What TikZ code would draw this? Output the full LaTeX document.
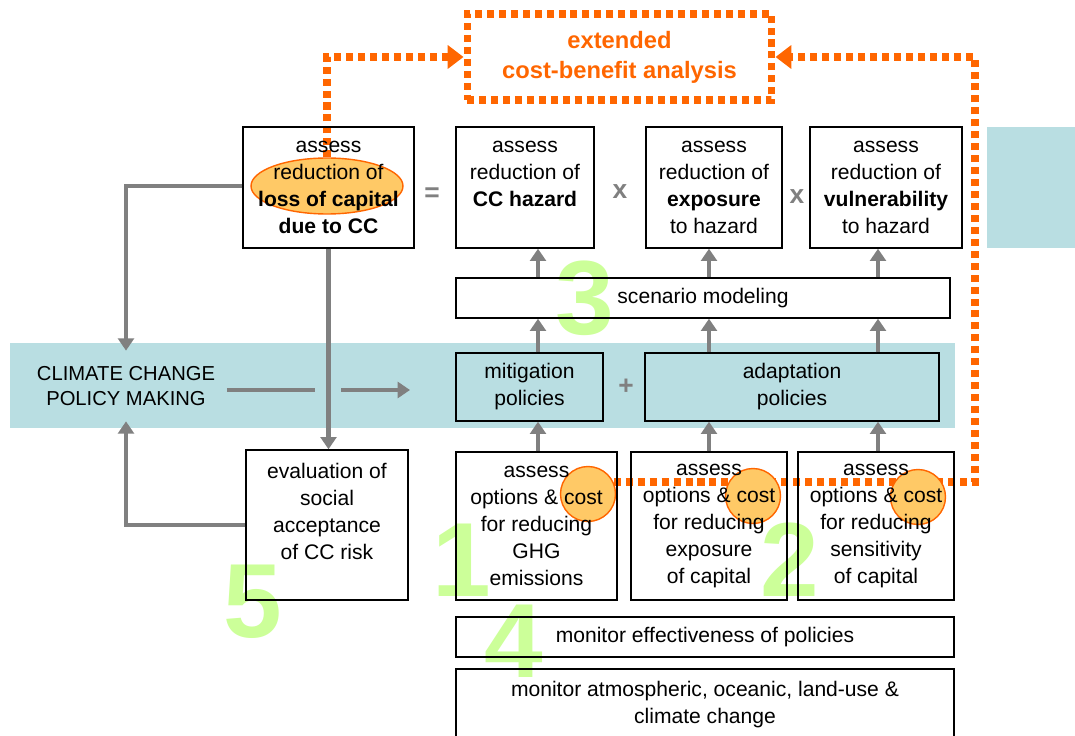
\documentclass[tikz,border=0pt]{standalone}
\usepackage{fontspec}
\setmainfont{Liberation Sans}
\usetikzlibrary{arrows.meta,shapes.geometric}
\definecolor{bandteal}{HTML}{B9DEE2}
\definecolor{cbaorange}{HTML}{FF6600}
\definecolor{hilite}{HTML}{FFC966}
\definecolor{stepgreen}{HTML}{CCFF99}
\definecolor{flowgray}{HTML}{808080}
\begin{document}
\begin{tikzpicture}[x=0.02cm,y=-0.02cm,
  font=\fontsize{12}{15.4}\selectfont,
  box/.style={draw=black,line width=0.8pt,align=center,inner sep=0pt},
  flow/.style={draw=flowgray,line width=2.8pt,-{Triangle[length=7pt,width=9pt]}},
  cbaline/.style={draw=cbaorange,line width=4pt,dash pattern=on 4pt off 2.8pt},
  cbatip/.style={-{Triangle[length=9pt,width=13pt,fill=cbaorange]}},
  highlight/.style={draw=cbaorange,fill=hilite,line width=0.8pt,inner sep=0pt},
  bignum/.style={text=stepgreen,inner sep=0pt,font=\fontsize{60}{60}\selectfont\bfseries},
  op/.style={text=flowgray,font=\fontsize{15}{15}\selectfont\bfseries}]
\useasboundingbox (0,0) rectangle (1075,736);

% background bands
\fill[bandteal] (10,343) rectangle (955,428);
\fill[bandteal] (987,127) rectangle (1075,248);

% step numbers
\node[bignum] (n3) at (585,298) {3};
\node[bignum] (n1) at (462,560) {1};
\node[bignum] (n2) at (790,560) {2};
\node[bignum] (n4) at (514,641) {4};
\node[bignum] (n5) at (253,602) {5};

% extended cost-benefit loop
\node[draw=cbaorange,line width=4pt,dash pattern=on 4pt off 2.8pt,minimum width=6.1cm,minimum height=1.72cm,
  text=cbaorange,align=center,font=\fontsize{13.5}{17}\selectfont\bfseries] (cba) at (619.5,57)
  {extended\\cost-benefit analysis};
\node[highlight,ellipse,minimum width=3.04cm,minimum height=1.12cm] (ell) at (327,186) {};
\draw[cbaline,cbatip] (ell.north) |- (cba.west);
\coordinate (loopin) at (578,482);
\coordinate (loopcorner) at (975,482);
\draw[cbaline,cbatip] (loopin) -- (loopcorner) |- (cba.east);
\node[highlight,circle,minimum size=1.1cm] (cost1) at (588,494) {};
\node[highlight,circle,minimum size=1.1cm] (cost2) at (753,496) {};
\node[highlight,circle,minimum size=1.1cm] (cost3) at (918,497) {};

% boxes
\node[box,minimum width=3.42cm,minimum height=2.42cm] (loss) at (328.5,187.5)
  {assess\\reduction of\\\textbf{loss of capital}\\\textbf{due to CC}};
\node[op] (eq) at (432,195) {=};
\node[box,minimum width=2.76cm,minimum height=2.42cm] (hazard) at (525,187.5)
  {assess\\reduction of\\\textbf{CC hazard}\\\mbox{}};
\node[op] (x1) at (620,192) {x};
\node[box,minimum width=2.72cm,minimum height=2.42cm] (expo) at (714,187.5)
  {assess\\reduction of\\\textbf{exposure}\\to hazard};
\node[op] (x2) at (797,197) {x};
\node[box,minimum width=3.04cm,minimum height=2.42cm] (vuln) at (886,187.5)
  {assess\\reduction of\\\textbf{vulnerability}\\to hazard};

\node[box,minimum width=9.88cm,minimum height=0.8cm] (scen) at (703,298) {scenario modeling};

\node[box,fill=bandteal,minimum width=2.94cm,minimum height=1.36cm] (mitig) at (529.5,387) {mitigation\\policies};
\node[op] (plus) at (626,387) {+};
\node[box,fill=bandteal,minimum width=5.88cm,minimum height=1.36cm] (adapt) at (792,387) {adaptation\\policies};

\node[align=center,font=\fontsize{11.5}{14.5}\selectfont,minimum height=1.4cm,inner sep=2pt] (ccpm) at (126,386)
  {CLIMATE CHANGE\\POLICY MAKING};

\node[box,minimum width=3.24cm,minimum height=3cm] (eval) at (327,525)
  {evaluation of\\social\\acceptance\\of CC risk\\\mbox{}};

\node[box,minimum width=3.22cm,minimum height=2.96cm] (opt1) at (536.5,526)
  {assess\\options \& cost\\for reducing\\GHG\\emissions};
\node[box,minimum width=3.12cm,minimum height=2.96cm] (opt2) at (709,526)
  {assess\\options \& cost\\for reducing\\exposure\\of capital};
\node[box,minimum width=3.12cm,minimum height=2.96cm] (opt3) at (876,526)
  {assess\\options \& cost\\for reducing\\sensitivity\\of capital};

\node[box,minimum width=9.96cm,minimum height=0.8cm] (moneff) at (705,637) {monitor effectiveness of policies};
\node[box,minimum width=9.96cm,minimum height=1.44cm] (monatm) at (705,705)
  {monitor atmospheric, oceanic, land-use \&\\climate change};

% gray flows
\coordinate (col1) at (538,0);
\coordinate (col2) at (709,0);
\coordinate (col3) at (878,0);
\draw[flow] (opt1.north -| col1) -- (mitig.south -| col1);
\draw[flow] (mitig.north -| col1) -- (scen.south -| col1);
\draw[flow] (scen.north -| col1) -- (hazard.south -| col1);
\draw[flow] (opt2.north -| col2) -- (adapt.south -| col2);
\draw[flow] (adapt.north -| col2) -- (scen.south -| col2);
\draw[flow] (scen.north -| col2) -- (expo.south -| col2);
\draw[flow] (opt3.north -| col3) -- (adapt.south -| col3);
\draw[flow] (adapt.north -| col3) -- (scen.south -| col3);
\draw[flow] (scen.north -| col3) -- (vuln.south -| col3);

\draw[flow] (loss.west |- ell.center) -| (ccpm.north);
\draw[flow] (eval.west) -| (ccpm.south);
\draw[flow] (loss.south) -- (loss.south |- eval.north);

\coordinate (gapl) at (315,390);
\coordinate (gapr) at (341,390);
\coordinate (policyin) at (410,390);
\draw[flow,-] ([xshift=0.16cm]ccpm.east |- gapl) -- (gapl);
\draw[flow] (gapr) -- (policyin);
\end{tikzpicture}
\end{document}
